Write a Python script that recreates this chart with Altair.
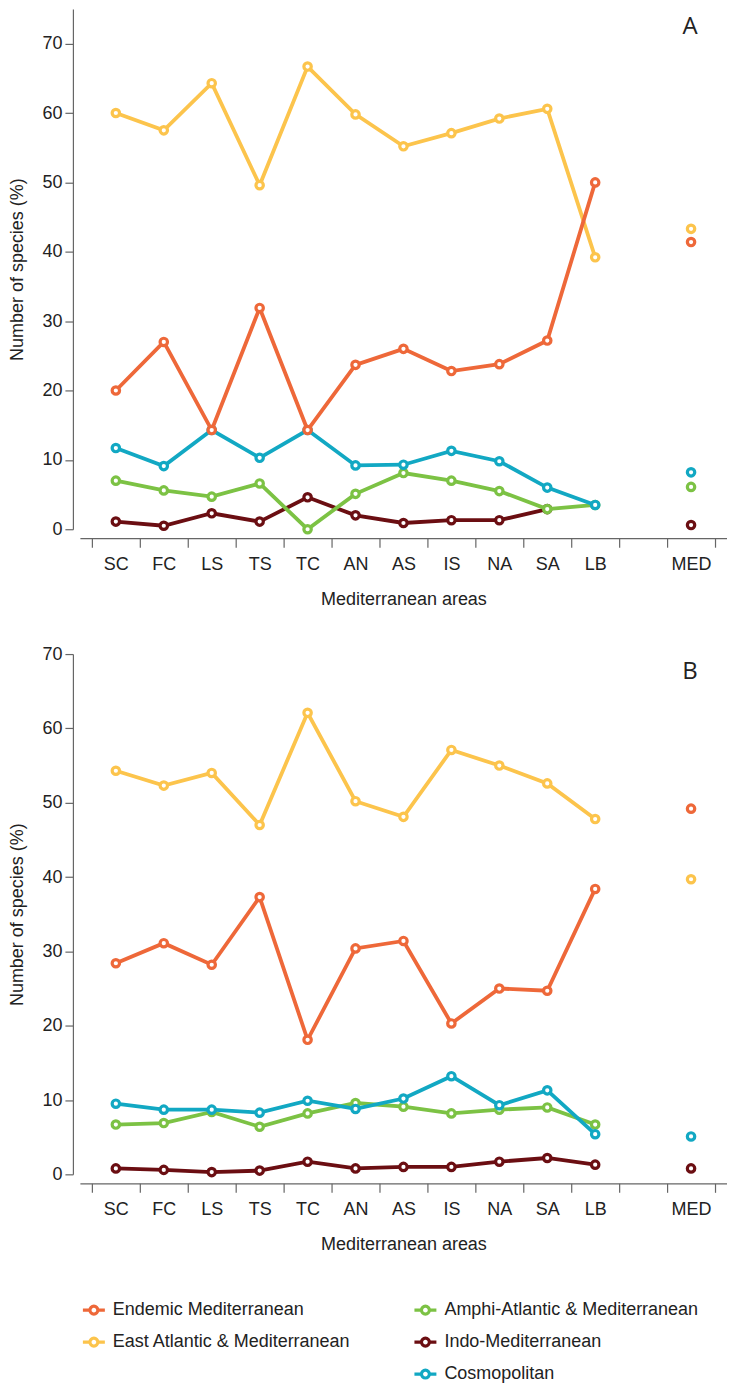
import altair as alt
import pandas as pd

areas = ["SC", "FC", "LS", "TS", "TC", "AN", "AS", "IS", "NA", "SA", "LB"]
med_label = "MED"
blank_slot = " "
x_domain = areas + [blank_slot, med_label]

series_names = [
    "Endemic Mediterranean",
    "East Atlantic & Mediterranean",
    "Amphi-Atlantic & Mediterranean",
    "Indo-Mediterranean",
    "Cosmopolitan",
]
series_colors = ["#EE6839", "#FCC44C", "#7CC244", "#6B0E12", "#12A8C3"]

# Panel A values (per area) and MED values
endemic_A = [20.0, 27.0, 14.3, 31.9, 14.3, 23.7, 26.0, 22.8, 23.8, 27.2, 50.0]
east_A = [60.0, 57.5, 64.3, 49.6, 66.7, 59.8, 55.2, 57.1, 59.2, 60.6, 39.2]
amphi_A = [7.0, 5.6, 4.7, 6.6, 0.0, 5.1, 8.1, 7.0, 5.5, 2.9, 3.5]
indo_A = [1.1, 0.5, 2.3, 1.1, 4.6, 2.0, 0.9, 1.3, 1.3, 2.9, None]
cosmo_A = [11.7, 9.1, 14.3, 10.3, 14.3, 9.2, 9.3, 11.3, 9.8, 6.0, 3.5]
med_A = [41.4, 43.3, 6.1, 0.6, 8.2]

# Panel B values (per area) and MED values
endemic_B = [28.4, 31.1, 28.2, 37.3, 18.1, 30.4, 31.4, 20.3, 25.0, 24.7, 38.4]
east_B = [54.3, 52.3, 54.0, 47.0, 62.1, 50.2, 48.1, 57.1, 55.0, 52.6, 47.8]
amphi_B = [6.7, 6.9, 8.4, 6.4, 8.2, 9.6, 9.1, 8.2, 8.7, 9.0, 6.7]
indo_B = [0.8, 0.6, 0.3, 0.5, 1.7, 0.8, 1.0, 1.0, 1.7, 2.2, 1.3]
cosmo_B = [9.5, 8.7, 8.7, 8.3, 9.9, 8.8, 10.2, 13.2, 9.3, 11.3, 5.4]
med_B = [49.2, 39.7, None, 0.8, 5.1]

y_ticks = [0, 10, 20, 30, 40, 50, 60, 70]

FONT = "Liberation Sans"
AXIS_GREY = "#666666"
TEXT = "#222222"

LEGEND_PATH = ("M-1,0H-0.36 M0.36,0H1 "
               "M-0.36,0A0.36,0.36 0 1,0 0.36,0A0.36,0.36 0 1,0 -0.36,0")


def build_frame(series_values, med_values):
    rows = []
    for name, vals, med in zip(series_names, series_values, med_values):
        for a, v in zip(areas, vals):
            rows.append({"area": a, "series": name, "value": v, "kind": "area"})
        rows.append({"area": med_label, "series": name, "value": med, "kind": "med"})
    return pd.DataFrame(rows)


df_A = build_frame([endemic_A, east_A, amphi_A, indo_A, cosmo_A], med_A)
df_B = build_frame([endemic_B, east_B, amphi_B, indo_B, cosmo_B], med_B)

group_left = series_names[:2]
group_right = series_names[2:]
color_of = dict(zip(series_names, series_colors))


def x_enc():
    return alt.X(
        "area:N",
        scale=alt.Scale(type="band", domain=x_domain, paddingInner=0, paddingOuter=0.25),
        axis=alt.Axis(
            title="Mediterranean areas",
            labelAngle=0,
            tickBand="extent",
            offset=9,
            tickSize=9,
            labelPadding=8,
            titlePadding=17,
            grid=False,
        ),
    )


def y_enc(top):
    return alt.Y(
        "value:Q",
        scale=alt.Scale(domain=[0, top], nice=False, zero=True),
        axis=alt.Axis(
            title="Number of species (%)",
            values=y_ticks,
            offset=7,
            tickSize=8,
            labelPadding=3,
            titlePadding=15,
            grid=False,
        ),
    )


def group_layer(df, names, order, top, legend):
    layers = []
    colors = [color_of[n] for n in names]
    for s in order:
        color = alt.Color(
            "series:N",
            scale=alt.Scale(domain=names, range=colors),
            legend=legend,
        )
        base = alt.Chart(df).transform_filter(alt.datum.series == s)
        line = base.transform_filter(alt.datum.kind == "area").mark_line(
            strokeWidth=3.8
        ).encode(x=x_enc(), y=y_enc(top), color=color)
        pts = base.mark_point(
            filled=False, fill="white", strokeWidth=3.2, size=55, opacity=1
        ).encode(x=x_enc(), y=y_enc(top), color=color)
        layers += [line, pts]
    return alt.layer(*layers)


def make_legend(lx, ly):
    return alt.Legend(
        title=None,
        orient="none",
        legendX=lx,
        legendY=ly,
        direction="vertical",
        symbolType=LEGEND_PATH,
        symbolSize=484,
        symbolStrokeWidth=3.2,
        symbolFillColor="white",
        labelFontSize=18,
        labelFont=FONT,
        labelColor=TEXT,
        labelOffset=6,
        labelLimit=500,
        rowPadding=8,
        padding=0,
    )


def panel(df, top, letter, legends):
    left_legend = make_legend(1, 644) if legends else None
    right_legend = make_legend(333, 644) if legends else None
    g_right = group_layer(
        df, group_right,
        ["Indo-Mediterranean", "Amphi-Atlantic & Mediterranean", "Cosmopolitan"],
        top, right_legend,
    )
    g_left = group_layer(
        df, group_left,
        ["East Atlantic & Mediterranean", "Endemic Mediterranean"],
        top, left_legend,
    )
    label = alt.Chart(pd.DataFrame({"label": [letter]})).mark_text(
        font="Open Sans", fontSize=24, color=TEXT, baseline="middle", align="center"
    ).encode(text="label:N", x=alt.value(611), y=alt.value(18))
    return alt.layer(g_right, g_left, label).resolve_scale(color="independent").properties(
        width=648, height=521
    )


panel_A = panel(df_A, 75, "A", legends=False)
panel_B = panel(df_B, 70, "B", legends=True)

chart = alt.vconcat(panel_A, panel_B, spacing=37).resolve_scale(
    color="independent"
).properties(
    padding={"left": 0, "top": 0, "right": 0, "bottom": 0}
).configure_view(
    stroke=None
).configure_axis(
    domainColor=AXIS_GREY,
    tickColor=AXIS_GREY,
    domainWidth=1.2,
    tickWidth=1.2,
    labelFont=FONT,
    titleFont=FONT,
    labelFontSize=18,
    titleFontSize=18,
    titleFontWeight="normal",
    labelColor=TEXT,
    titleColor=TEXT,
)

chart.save("out.html", embed_options={"renderer": "svg", "actions": False})
